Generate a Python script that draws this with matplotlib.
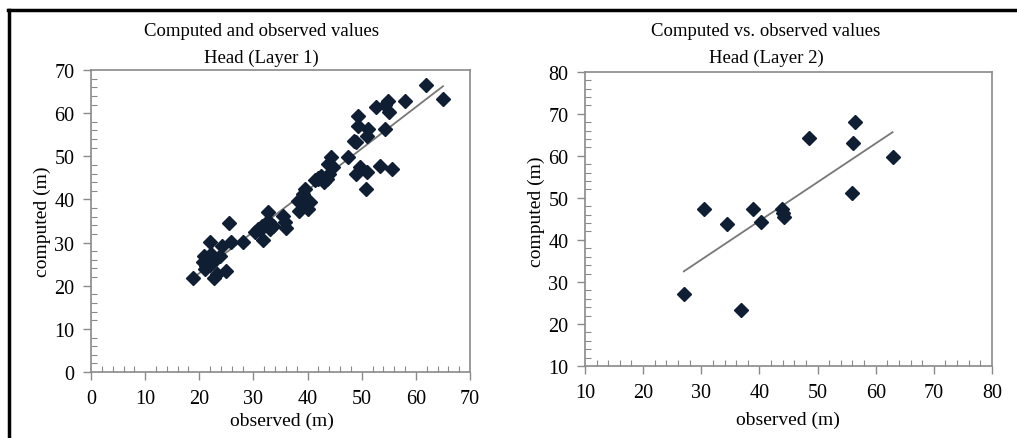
import numpy as np
import matplotlib
matplotlib.use('Agg')
import matplotlib.pyplot as plt
from matplotlib.ticker import MultipleLocator
from matplotlib.lines import Line2D

plt.rcParams['font.family'] = ['Liberation Serif', 'DejaVu Serif']

# ── Layer 1 data (observed, computed) ─────────────────────────
obs1 = [18.8, 20.6, 20.8, 21.0, 21.3, 21.9, 21.9, 22.2, 22.8, 23.2, 23.8, 24.1, 25.0, 25.4,
        25.9, 28.0, 30.2, 30.8, 31.5, 31.8, 32.1, 32.7, 32.9, 33.1, 33.6, 35.5, 35.8, 36.0,
        38.2, 38.5, 39.2, 39.5, 39.8, 40.1, 40.4, 41.3, 41.9, 42.5, 43.1, 43.5, 43.8, 44.4,
        44.7, 47.5, 48.6, 49.0, 49.3, 49.3, 49.0, 49.6, 50.7, 51.0, 51.2, 50.9, 52.7, 53.3,
        54.2, 54.2, 54.9, 55.1, 55.5, 57.9, 61.8, 65.0, 21.2, 31.2, 42.0, 44.0, 38.8, 22.4]
com1 = [21.7, 25.4, 27.0, 23.9, 26.2, 30.2, 24.7, 27.4, 21.9, 22.7, 27.0, 29.3, 23.5, 34.5,
        30.1, 30.1, 32.4, 33.2, 33.9, 30.7, 34.3, 37.0, 34.7, 33.2, 33.9, 36.2, 34.7, 33.3,
        39.7, 37.4, 41.3, 42.4, 38.9, 37.8, 39.3, 44.4, 44.7, 45.5, 44.0, 44.7, 48.2, 49.8,
        47.4, 49.8, 53.6, 53.2, 59.4, 57.1, 45.9, 47.4, 42.4, 46.3, 56.3, 54.8, 61.4, 47.7,
        61.9, 56.3, 62.9, 60.2, 47.1, 62.9, 66.5, 63.3, 24.6, 33.0, 45.0, 46.0, 40.2, 25.2]

# ── Layer 2 data ──────────────────────────────────────────────
obs2 = [27.0, 30.5, 34.4, 36.9, 38.9, 40.3, 43.9, 44.1, 44.3, 48.5, 55.9, 56.1, 56.4, 62.9]
com2 = [27.1, 47.3, 43.8, 23.4, 47.3, 44.2, 47.3, 46.5, 45.4, 64.2, 51.1, 63.0, 68.0, 59.8]

MARK = '#0f1e33'
SPINE = '#8a8a8a'

fig = plt.figure(figsize=(10.17, 4.39), dpi=100)

def style(ax, xlim, ylim):
    ax.set_xlim(*xlim); ax.set_ylim(*ylim)
    ax.xaxis.set_major_locator(MultipleLocator(10))
    ax.yaxis.set_major_locator(MultipleLocator(10))
    ax.xaxis.set_minor_locator(MultipleLocator(2))
    ax.yaxis.set_minor_locator(MultipleLocator(2))
    for s in ax.spines.values():
        s.set_color(SPINE); s.set_linewidth(1.2)
    ax.tick_params(which='major', direction='out', length=6, width=1, color=SPINE,
                   labelsize=14.5)
    ax.tick_params(axis='x', which='major', pad=6)
    ax.tick_params(axis='y', which='major', pad=6)
    ax.tick_params(which='minor', direction='in', length=4, width=0.8, color=SPINE)

def scatter_fit(ax, x, y):
    x = np.array(x); y = np.array(y)
    ax.plot(x, y, linestyle='none', marker='D', ms=6.8, color=MARK, zorder=3)
    k, b = np.polyfit(x, y, 1)
    xs = np.array([x.min(), x.max()])
    ax.plot(xs, k*xs + b, color='#777777', lw=1.3, zorder=2)

ax1 = fig.add_axes([0.0895, 0.1503, 0.3727, 0.688])
style(ax1, (0, 70), (0, 70))
scatter_fit(ax1, obs1, com1)

ax2 = fig.add_axes([0.5752, 0.164, 0.4002, 0.6704])
style(ax2, (10, 80), (10, 80))
scatter_fit(ax2, obs2, com2)

# titles and labels
fig.text(261/1017, 1-31/439, 'Computed and observed values', ha='center', va='center', fontsize=13.5)
fig.text(261/1017, 1-58/439, 'Head (Layer 1)', ha='center', va='center', fontsize=13.5)
fig.text(766/1017, 1-32/439, 'Computed vs. observed values', ha='center', va='center', fontsize=13.5)
fig.text(766/1017, 1-58/439, 'Head (Layer 2)', ha='center', va='center', fontsize=13.5)
fig.text(282/1017, 1-421/439, 'observed (m)', ha='center', va='center', fontsize=14)
fig.text(788/1017, 1-420/439, 'observed (m)', ha='center', va='center', fontsize=14)
fig.text(42/1017, 1-222/439, 'computed (m)', ha='center', va='center', rotation=90, fontsize=14)
fig.text(536/1017, 1-212/439, 'computed (m)', ha='center', va='center', rotation=90, fontsize=14)

# outer frame (top and left edges)
fig.add_artist(Line2D([8/1017, 1], [1-11/439, 1-11/439], transform=fig.transFigure, color='black', lw=2.5))
fig.add_artist(Line2D([9/1017, 9/1017], [0, 1-11/439], transform=fig.transFigure, color='black', lw=2.5))

fig.savefig('out.png', dpi=100)
